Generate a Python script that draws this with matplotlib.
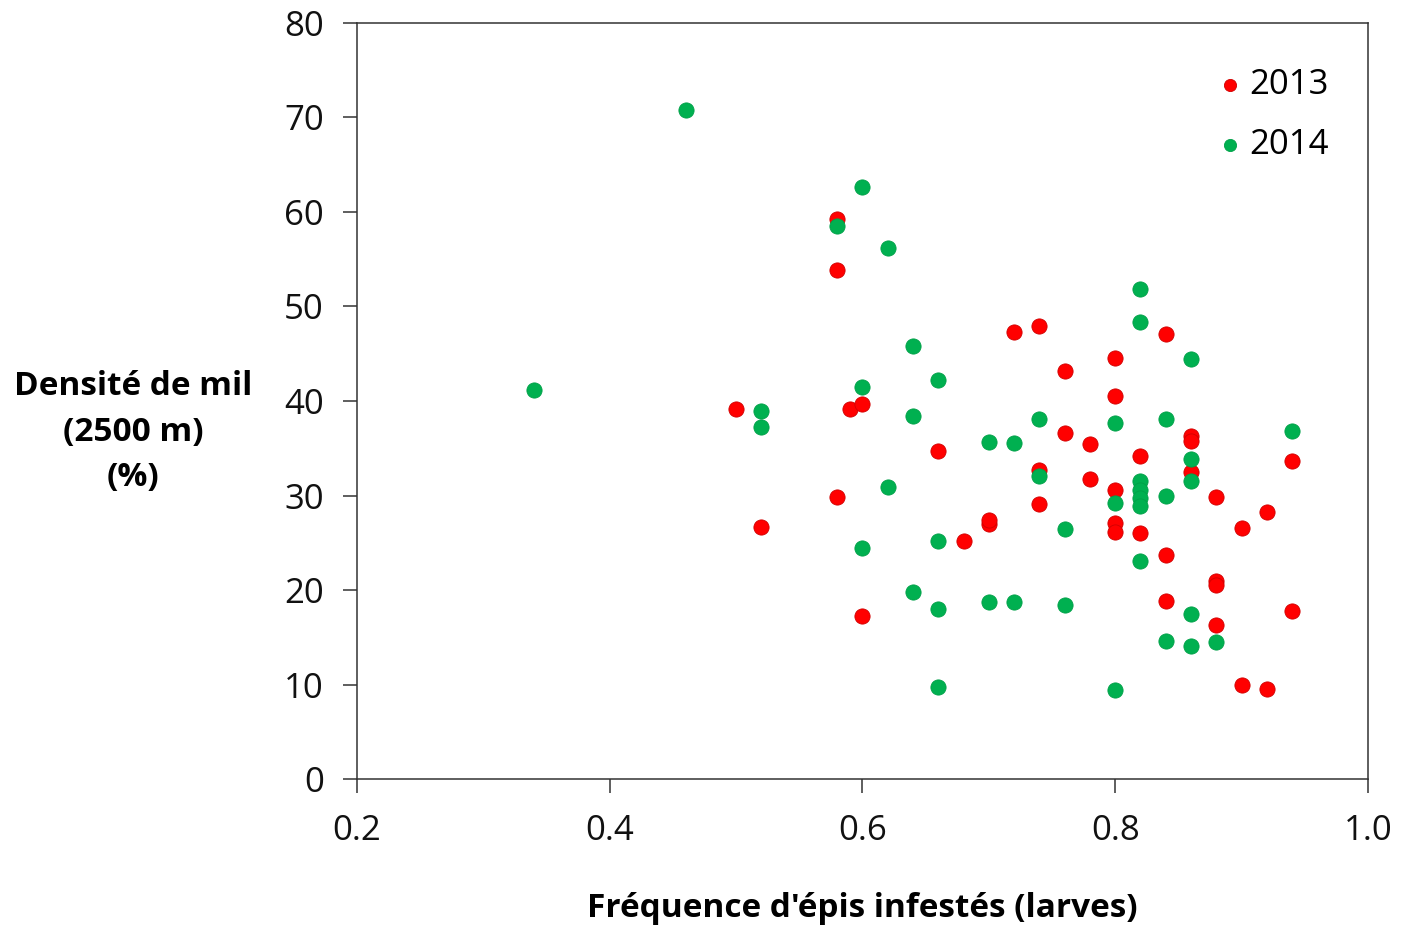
import matplotlib
matplotlib.use("Agg")
import matplotlib.pyplot as plt

# 2013 (rouge)
x_2013 = [0.50, 0.52, 0.58, 0.58, 0.58, 0.59, 0.60, 0.60, 0.66, 0.68,
          0.70, 0.70, 0.72, 0.74, 0.74, 0.74, 0.76, 0.76, 0.78, 0.78,
          0.80, 0.80, 0.80, 0.80, 0.80, 0.82, 0.82, 0.84, 0.84, 0.84,
          0.86, 0.86, 0.86, 0.88, 0.88, 0.88, 0.88, 0.90, 0.90, 0.92,
          0.92, 0.94, 0.94]
y_2013 = [39.2, 26.7, 59.3, 53.9, 29.8, 39.2, 39.7, 17.2, 34.7, 25.2,
          27.0, 27.4, 47.3, 47.9, 32.7, 29.1, 43.2, 36.6, 35.4, 31.7,
          44.6, 40.5, 30.6, 27.1, 26.1, 34.2, 26.0, 47.1, 23.7, 18.8,
          36.3, 35.8, 32.5, 29.8, 21.0, 20.5, 16.3, 26.6, 9.9, 28.3,
          9.5, 33.6, 17.8]

# 2014 (vert)
x_2014 = [0.34, 0.46, 0.52, 0.52, 0.58, 0.60, 0.60, 0.60, 0.62, 0.62,
          0.64, 0.64, 0.64, 0.66, 0.66, 0.66, 0.66, 0.70, 0.70, 0.72,
          0.72, 0.74, 0.74, 0.76, 0.76, 0.80, 0.80, 0.80, 0.82, 0.82,
          0.82, 0.82, 0.82, 0.82, 0.82, 0.84, 0.84, 0.84, 0.86, 0.86,
          0.86, 0.86, 0.86, 0.88, 0.94]
y_2014 = [41.2, 70.8, 38.9, 37.2, 58.5, 62.6, 41.5, 24.4, 56.2, 30.9,
          45.8, 38.4, 19.8, 42.2, 25.2, 18.0, 9.7, 35.7, 18.7, 35.6,
          18.7, 38.1, 32.1, 26.5, 18.4, 37.7, 29.2, 9.4, 51.9, 48.4,
          31.5, 30.6, 29.7, 28.9, 23.1, 38.1, 29.9, 14.6, 44.4, 33.9,
          31.5, 17.5, 14.1, 14.5, 36.8]

plt.rcParams['font.family'] = ['Open Sans', 'DejaVu Sans']

fig = plt.figure(figsize=(14.03, 9.26), dpi=100)
ax = fig.add_axes([0.2545, 0.1587, 0.7205, 0.8165])

ax.scatter(x_2013, y_2013, s=120, color='#FF0000', edgecolors='#D00000',
           linewidths=0.6, label='2013', zorder=3)
ax.scatter(x_2014, y_2014, s=120, color='#00B050', edgecolors='#00A048',
           linewidths=0.6, label='2014', zorder=3)

ax.set_xlim(0.2, 1.0)
ax.set_ylim(0, 80)
ax.set_xticks([0.2, 0.4, 0.6, 0.8, 1.0])
ax.set_xticklabels(['0.2', '0.4', '0.6', '0.8', '1.0'])
ax.set_yticks(range(0, 81, 10))

for sp in ax.spines.values():
    sp.set_color('#333333')
    sp.set_linewidth(1.1)
ax.tick_params(axis='both', direction='out', length=10, width=1.1,
               color='#333333', labelsize=25, labelcolor='#111111')
ax.tick_params(axis='x', pad=15)
ax.tick_params(axis='y', pad=14)

ax.set_xlabel("Fréquence d'épis infestés (larves)", fontsize=24,
              fontweight='bold', labelpad=32)
fig.text(133 / 1403, 1 - 432 / 926, "Densité de mil\n(2500 m)\n(%)",
         fontsize=24, fontweight='bold', ha='center', va='center',
         linespacing=1.5)

ax.legend(loc='upper right', bbox_to_anchor=(0.985, 0.972), frameon=False,
          fontsize=25, handletextpad=0.1, handlelength=0.9, markerscale=0.8,
          labelspacing=0.75, borderaxespad=0.3)

fig.savefig('out.png', dpi=100, facecolor='white')
